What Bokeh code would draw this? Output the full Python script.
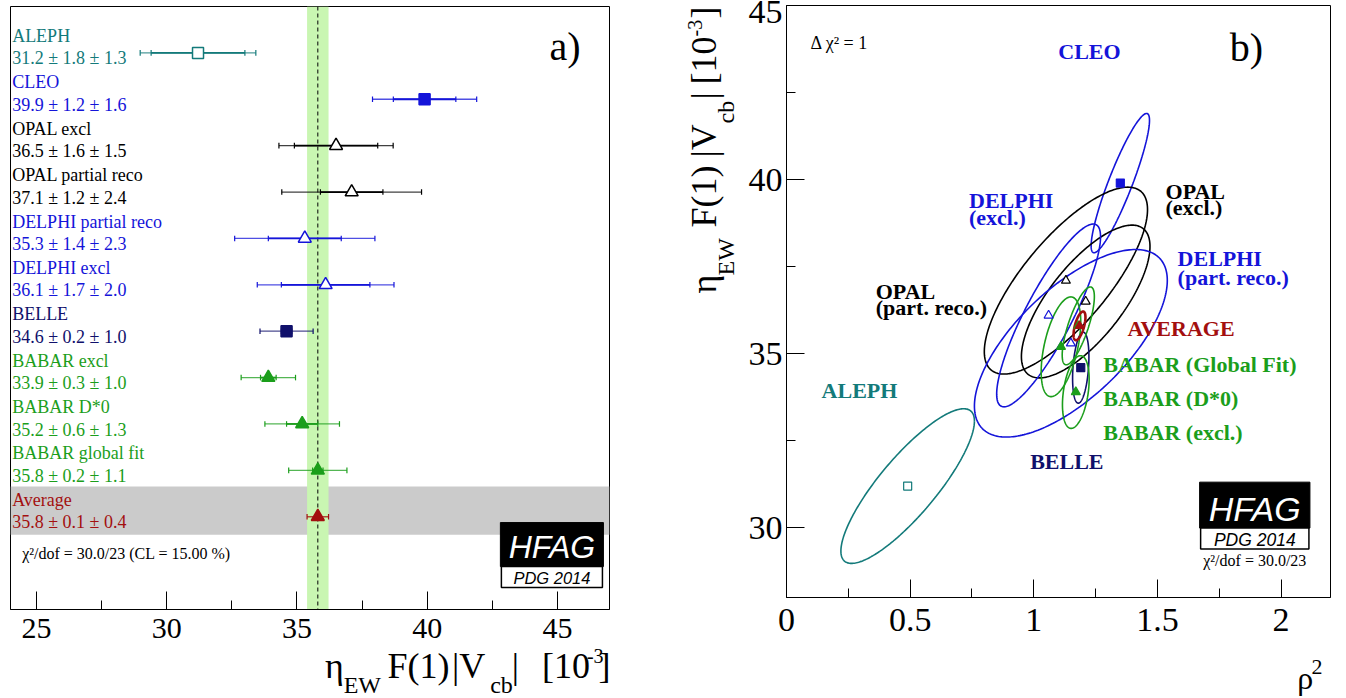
import numpy as np
from bokeh.plotting import figure
from bokeh.layouts import row, column
from bokeh.models import ColumnDataSource, Label, FixedTicker, BoxAnnotation, Range1d, Span
from bokeh.embed import file_html
from bokeh.resources import INLINE
from bokeh.core.properties import value

# ---------------- data ----------------
experiments = ["ALEPH", "CLEO", "OPAL excl", "OPAL partial reco", "DELPHI partial reco",
               "DELPHI excl", "BELLE", "BABAR excl", "BABAR D*0", "BABAR global fit", "Average"]
vcb = [31.2, 39.9, 36.5, 37.1, 35.3, 36.1, 34.6, 33.9, 35.2, 35.8, 35.8]
stat = [1.8, 1.2, 1.6, 1.2, 1.4, 1.7, 0.2, 0.3, 0.6, 0.2, 0.1]
syst = [1.3, 1.6, 1.5, 2.4, 2.3, 2.0, 1.0, 1.0, 1.3, 1.1, 0.4]
rho2 = [0.49, 1.35, 1.21, 1.13, 1.15, 1.06, 1.19, 1.17, 1.11, 1.18, 1.185]
rho2_err = [0.27, 0.118, 0.26, 0.33, 0.39, 0.21, 0.033, 0.054, 0.08, 0.065, 0.024]
corr = [0.84, 0.90, 0.72, 0.76, 0.67, 0.86, 0.30, 0.35, 0.50, 0.75, 0.60]

a_ticks = [25, 30, 35, 40, 45]
a_minor = [27.5, 32.5, 37.5, 42.5]
b_xticks = [0, 0.5, 1, 1.5, 2]
b_xtick_labels = ["0", "0.5", "1", "1.5", "2"]
b_xminor = [0.25, 0.75, 1.25, 1.75]
b_yticks = [30, 35, 40, 45]
b_ytick_labels = ["30", "35", "40", "45"]
b_yminor = [32.5, 37.5, 42.5]

b_labels = ["CLEO", "DELPHI", "(excl.)", "OPAL", "(excl.)", "DELPHI", "(part. reco.)",
            "OPAL", "(part. reco.)", "AVERAGE", "BABAR (Global Fit)", "BABAR (D*0)",
            "BABAR (excl.)", "ALEPH", "BELLE"]
chi2_text = "χ²/dof = 30.0/23 (CL = 15.00 %)"
chi2_short = "χ²/dof = 30.0/23"
title_pieces = ["η", "EW", "F(1)", "|V", "cb", "|", "[10", "-3", "]"]

# ---------------- styles / layout ----------------
SERIF = "Liberation Serif"
SANS = "Liberation Sans"
TEAL, BLUE, NAVY, GREEN, DRED = "#137a7a", "#1414d9", "#10106b", "#1b9e1b", "#a30f0f"
colors = [TEAL, BLUE, "black", "black", BLUE, BLUE, NAVY, GREEN, GREEN, GREEN, DRED]
markers = ["square", "square", "triangle", "triangle", "triangle", "triangle",
           "square", "triangle", "triangle", "triangle", "triangle"]
filled = [False, True, False, False, False, False, True, True, True, True, True]
fills = [c if f else "white" for c, f in zip(colors, filled)]
msize_a = [11 if m == "square" else 13 for m in markers]
msize_b = [8 if m == "square" else 9 for m in markers]

b_label_colors = [BLUE, BLUE, BLUE, "black", "black", BLUE, BLUE, "black", "black", DRED,
                  GREEN, GREEN, GREEN, TEAL, NAVY]
b_label_px = [(1058, 50), (969, 200), (969, 217), (1165, 191), (1165, 207), (1177, 258),
              (1177, 277), (876, 291), (876, 307), (1127, 328), (1103, 364), (1103, 398),
              (1103, 432), (822, 390), (1030, 461)]
piece_sizes = ["36px", "24px", "36px", "36px", "24px", "36px", "36px", "20px", "36px"]
# (left x, centre y) of each title piece, page pixels
a_title_px = [(325, 665), (344, 684), (389, 665), (455, 665), (494, 684), (516, 665),
              (547, 665), (593, 655), (605, 665)]
# (centre x, start y) of each rotated title piece, page pixels
b_title_px = [(703, 293), (725, 275), (703, 227), (703, 157), (725, 123), (703, 99),
              (703, 84), (694, 36), (703, 18)]

WA, HA, HA_T = 660, 646, 52          # panel a figure / its title strip
WY = 82                              # strip holding panel b's y title
WB, HB, HB_T = 604, 640, 58          # panel b figure / its title strip
A_STRIP_GAIN = 0.929                 # measured horizontal gain of the panel-a title strip


# reference-pixel -> data helpers (placement only)
def ax(px): return 25 + (px - 36.4) / 26.03
def ay(py): return 12 - (py - 6) / 46.38
def bx(px): return (px - 787) / 246.6
def by(py): return 35 + (353.3 - py) / 34.9


n = len(experiments)
rows = [n - i for i in range(n)]
tot = [float(np.hypot(a, b)) for a, b in zip(stat, syst)]


def style_axis(axis, size, standoff):
    axis.axis_line_color = "black"
    axis.major_tick_line_color = "black"
    axis.minor_tick_line_color = "black"
    axis.major_tick_in = 18
    axis.major_tick_out = 0
    axis.minor_tick_in = 9
    axis.minor_tick_out = 0
    axis.major_label_text_font = SERIF
    axis.major_label_text_font_size = size
    axis.major_label_text_color = "black"
    axis.major_label_standoff = standoff


def lab(p, x, y, text, size, color="black", align="left", font=SERIF, style="normal"):
    p.add_layout(Label(x=x, y=y, text=text, text_font_size=size, text_color=color,
                       text_align=align, text_baseline="middle", text_font=font,
                       text_font_style=style))


def strip(w, h):
    s = figure(width=w, height=h, min_border=0, min_border_left=0, min_border_right=0,
               min_border_top=0, min_border_bottom=0, x_range=Range1d(0, w),
               y_range=Range1d(h, 0), x_axis_location=None, y_axis_location=None,
               output_backend="svg", toolbar_location=None, tools="")
    s.xgrid.visible = False
    s.ygrid.visible = False
    s.outline_line_color = None
    s.background_fill_color = "white"
    s.border_fill_color = "white"
    return s


# ================= panel a =================
pa = figure(width=WA, height=HA, min_border_left=10, min_border_right=51,
            min_border_top=6, min_border_bottom=HA - 609, x_range=Range1d(24, 47),
            y_range=Range1d(-1, 12), y_axis_location=None, output_backend="svg",
            toolbar_location=None, tools="")
pa.xgrid.visible = False
pa.ygrid.visible = False
pa.outline_line_color = "black"
pa.outline_line_alpha = 1
pa.background_fill_color = "white"
pa.border_fill_color = "white"
pa.xaxis.ticker = FixedTicker(ticks=a_ticks, minor_ticks=a_minor)
style_axis(pa.xaxis[0], "30px", 9)

avg, avg_tot = vcb[-1], tot[-1]
pa.add_layout(BoxAnnotation(bottom=rows[-1] - 0.39, top=rows[-1] + 0.65, fill_color="#cbcbcb",
                            fill_alpha=1, line_alpha=0, level="underlay"))
pa.add_layout(BoxAnnotation(left=avg - avg_tot, right=avg + avg_tot, fill_color="#c9f6b2",
                            fill_alpha=1, line_alpha=0, level="underlay"))
pa.add_layout(Span(location=avg, dimension="height", line_color="black", line_width=1,
                   line_dash="4 3", level="underlay"))

src = ColumnDataSource(dict(
    v=vcb, r=rows, lo_t=[v - t for v, t in zip(vcb, tot)], hi_t=[v + t for v, t in zip(vcb, tot)],
    lo_s=[v - s for v, s in zip(vcb, stat)], hi_s=[v + s for v, s in zip(vcb, stat)],
    color=colors, fill=fills, marker=markers, size=msize_a,
    name_y=[r + 0.364 for r in rows], val_y=[r - 0.12 for r in rows],
    name=experiments,
    val=[f"{v:.1f} ± {s:.1f} ± {y:.1f}" for v, s, y in zip(vcb, stat, syst)],
    tx=[ax(12)] * n))

pa.segment(x0="lo_t", y0="r", x1="hi_t", y1="r", line_color="color", line_width=1.3,
           line_alpha=0.75, source=src)
pa.segment(x0="lo_s", y0="r", x1="hi_s", y1="r", line_color="color", line_width=1.8, source=src)
tick_x, tick_y, tick_c = [], [], []
for i in range(n):
    for xv in (vcb[i] - tot[i], vcb[i] + tot[i], vcb[i] - stat[i], vcb[i] + stat[i]):
        tick_x.append(xv)
        tick_y.append(rows[i])
        tick_c.append(colors[i])
pa.segment(x0=tick_x, y0=[y - 0.06 for y in tick_y], x1=tick_x, y1=[y + 0.06 for y in tick_y],
           line_color=tick_c, line_width=1.2)
pa.scatter(x="v", y="r", marker="marker", size="size", fill_color="fill", line_color="color",
           line_width=1.5, source=src)
pa.text(x="tx", y="name_y", text="name", text_color="color", text_font=value(SERIF),
        text_font_size=value("18px"), text_baseline="middle", text_align="left", source=src)
pa.text(x="tx", y="val_y", text="val", text_color="color", text_font=value(SERIF),
        text_font_size=value("18px"), text_baseline="middle", text_align="left", source=src)

lab(pa, ax(549), ay(46), "a)", "40px")
lab(pa, ax(22), ay(553), chi2_text, "16px")
pa.add_layout(BoxAnnotation(left=ax(500), right=ax(603), top=ay(522), bottom=ay(566),
                            fill_color="black", fill_alpha=1, line_color="black", line_alpha=1))
pa.add_layout(BoxAnnotation(left=ax(501), right=ax(602), top=ay(566), bottom=ay(587),
                            fill_color="white", fill_alpha=1, line_color="black", line_alpha=1,
                            line_width=1.5))
lab(pa, ax(551.5), ay(546.5), "HFAG", "32px", color="white", align="center", font=SANS, style="italic")
lab(pa, ax(551.5), ay(577), "PDG 2014", "16.5px", align="center", font=SANS, style="italic")

# panel a x-axis title strip
ta = strip(WA, HA_T)
ta.text(x=[(p[0] - 3) / A_STRIP_GAIN for p in a_title_px], y=[p[1] - HA for p in a_title_px],
        text=title_pieces, text_font=value(SERIF), text_font_size=piece_sizes,
        text_color="black", text_align="left", text_baseline="middle")

# ================= panel b =================
pb = figure(width=WB, height=HB, min_border_left=44, min_border_right=16,
            min_border_top=5, min_border_bottom=HB - 597, x_range=Range1d(0, 2.2),
            y_range=Range1d(28, 45), output_backend="svg", toolbar_location=None, tools="")
pb.xgrid.visible = False
pb.ygrid.visible = False
pb.outline_line_color = "black"
pb.outline_line_alpha = 1
pb.background_fill_color = "white"
pb.border_fill_color = "white"
pb.xaxis.ticker = FixedTicker(ticks=b_xticks, minor_ticks=b_xminor)
pb.xaxis.major_label_overrides = {float(k): v for k, v in zip(b_xticks, b_xtick_labels)}
pb.yaxis.ticker = FixedTicker(ticks=b_yticks, minor_ticks=b_yminor)
pb.yaxis.major_label_overrides = {float(k): v for k, v in zip(b_yticks, b_ytick_labels)}
style_axis(pb.xaxis[0], "34px", 11)
style_axis(pb.yaxis[0], "34px", 4)

t = np.linspace(0, 2 * np.pi, 240)
exs, eys = [], []
for cx, sx, cy, sy, rc in zip(rho2, rho2_err, vcb, tot, corr):
    exs.append(cx + sx * np.cos(t))
    eys.append(cy + sy * (rc * np.cos(t) + np.sqrt(1 - rc * rc) * np.sin(t)))
pb.multi_line(xs=exs[:-1], ys=eys[:-1], line_color=colors[:-1], line_width=1.6)
pb.multi_line(xs=exs[-1:], ys=eys[-1:], line_color=colors[-1:], line_width=2.6)
pb.scatter(x=rho2, y=vcb, marker=markers, size=msize_b, fill_color=fills, line_color=colors,
           line_width=1.2)

bsrc = ColumnDataSource(dict(x=[bx(p[0]) for p in b_label_px], y=[by(p[1]) for p in b_label_px],
                             text=b_labels, color=b_label_colors))
pb.text(x="x", y="y", text="text", text_color="color", text_font=value(SERIF),
        text_font_style="bold", text_font_size=value("22px"), text_baseline="middle",
        text_align="left", source=bsrc)

lab(pb, bx(811), by(42), "Δ χ² = 1", "18px")
lab(pb, bx(1229), by(46), "b)", "40px")
pb.add_layout(BoxAnnotation(left=bx(1199), right=bx(1309), top=by(482), bottom=by(528),
                            fill_color="black", fill_alpha=1, line_color="black", line_alpha=1))
pb.add_layout(BoxAnnotation(left=bx(1200), right=bx(1308), top=by(528), bottom=by(549),
                            fill_color="white", fill_alpha=1, line_color="black", line_alpha=1,
                            line_width=1.5))
lab(pb, bx(1254), by(508.5), "HFAG", "34px", color="white", align="center", font=SANS, style="italic")
lab(pb, bx(1254), by(540), "PDG 2014", "17.5px", align="center", font=SANS, style="italic")
lab(pb, bx(1254), by(561), chi2_short, "16px", align="center")

# panel b y-axis title strip (rotated pieces)
ty = strip(WY, HA + HA_T)
ty.text(x=[p[0] - WA for p in b_title_px], y=[p[1] for p in b_title_px], text=title_pieces,
        text_font=value(SERIF), text_font_size=piece_sizes, text_color="black",
        text_align="left", text_baseline="middle", angle=np.pi / 2)

# panel b x-axis title strip
tb = strip(WB, HB_T)
tb.text(x=[1309 - WA - WY, 1325 - WA - WY], y=[677 - HB, 666 - HB], text=["ρ", "2"],
        text_font=value(SERIF), text_font_size=["32px", "22px"], text_color="black",
        text_align="left", text_baseline="middle")

layout = row(column(pa, ta), ty, column(pb, tb))
open("out.html", "w").write(file_html(layout, INLINE))
